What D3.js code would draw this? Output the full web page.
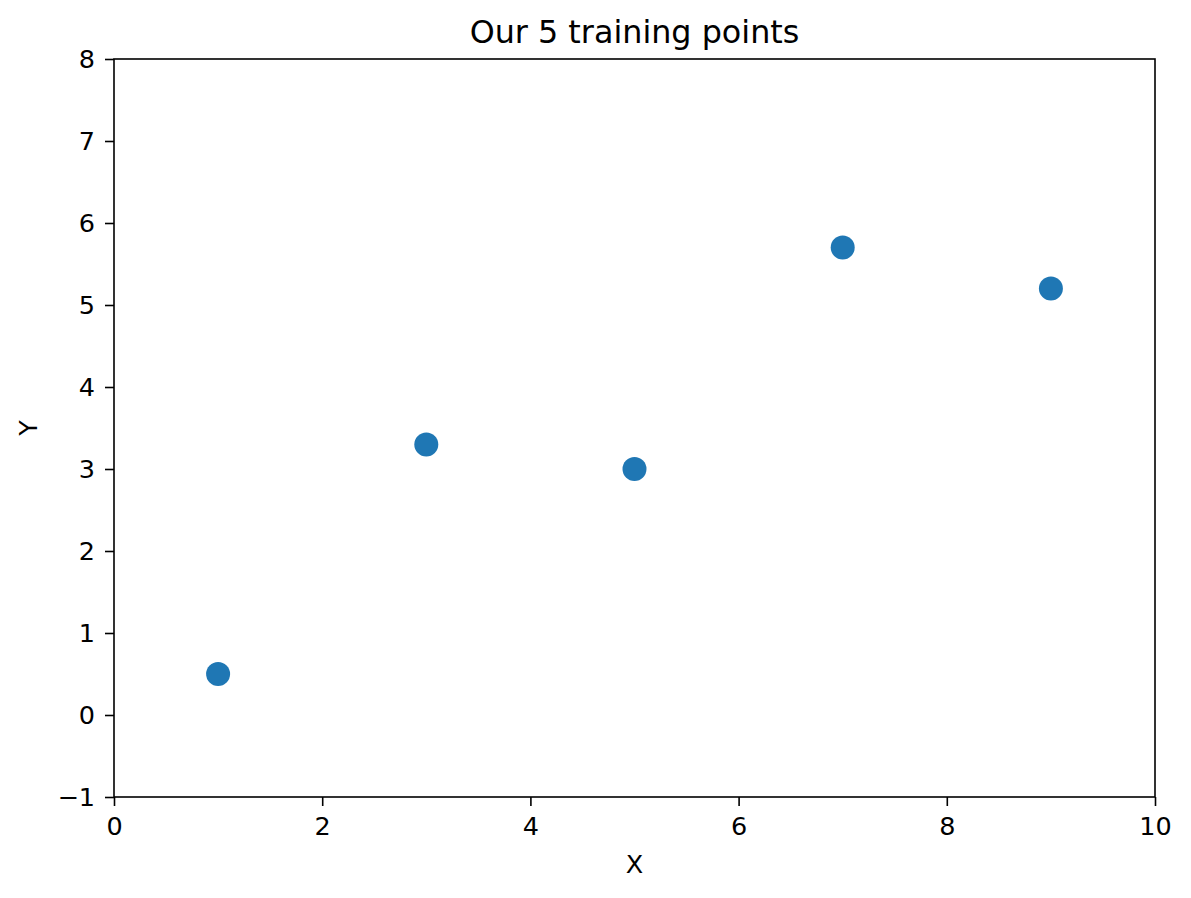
<!DOCTYPE html>
<html><head><meta charset="utf-8">
<script src="https://cdn.jsdelivr.net/npm/d3@7"></script>
<style>body{margin:0;background:#fff}svg{display:block}text{font-family:"DejaVu Sans",sans-serif}</style>
</head><body><svg id="c" width="1191" height="898"></svg>
<script>
const xs = [1, 3, 5, 7, 9];
const ys = [0.5, 3.3, 3.0, 5.7, 5.2];
const xTicks = [0, 2, 4, 6, 8, 10];
const yTicks = [-1, 0, 1, 2, 3, 4, 5, 6, 7, 8];
const titleText = "Our 5 training points";

const svg = d3.select("#c");
const m = {l: 114, r: 1155, t: 59, b: 797};
const x = d3.scaleLinear().domain([0, 10]).range([m.l, m.r]);
const y = d3.scaleLinear().domain([-1, 8]).range([m.b, m.t]);
const fs = 25.5;
const fmt = d => d < 0 ? "\u2212" + Math.abs(d) : String(d);

const gx = svg.append("g").attr("transform", `translate(0,${m.b})`)
  .call(d3.axisBottom(x).tickValues(xTicks).tickFormat(fmt).tickSize(9).tickPadding(11));
const gy = svg.append("g").attr("transform", `translate(${m.l},0)`)
  .call(d3.axisLeft(y).tickValues(yTicks).tickFormat(fmt).tickSize(9).tickPadding(10));
[gx, gy].forEach(g => {
  g.selectAll(".domain").remove();
  g.selectAll("line").attr("stroke", "#000").attr("stroke-width", 1.6);
  g.selectAll("text").attr("fill", "#000").style("font-size", fs + "px").style("font-family", "DejaVu Sans");
});

svg.append("rect").attr("x", m.l).attr("y", m.t).attr("width", m.r - m.l).attr("height", m.b - m.t)
  .attr("fill", "none").attr("stroke", "#000").attr("stroke-width", 1.6);

svg.append("g").selectAll("circle").data(xs).join("circle")
  .attr("cx", (d) => x(d)).attr("cy", (d, i) => y(ys[i])).attr("r", 12).attr("fill", "#1f77b4");

svg.append("text").attr("x", (m.l + m.r) / 2).attr("y", 43).attr("text-anchor", "middle")
  .style("font-size", "31.8px").text(titleText);
svg.append("text").attr("x", (m.l + m.r) / 2).attr("y", 873).attr("text-anchor", "middle")
  .style("font-size", fs + "px").text("X");
svg.append("text").attr("transform", `translate(37,${(m.t + m.b) / 2}) rotate(-90)`).attr("text-anchor", "middle")
  .style("font-size", fs + "px").text("Y");
</script></body></html>
